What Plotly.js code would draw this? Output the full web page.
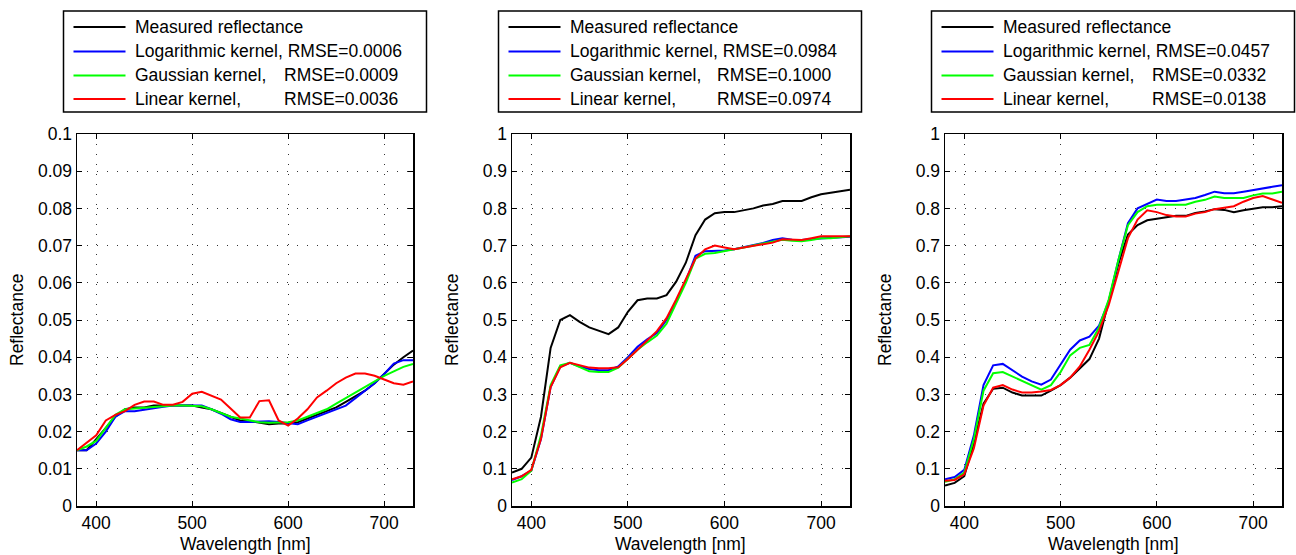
<!DOCTYPE html>
<html>
<head>
<meta charset="utf-8">
<script src="https://cdn.plot.ly/plotly-3.0.1.min.js"></script>
<style>html,body{margin:0;padding:0;background:#fff;}#chart{width:1296px;height:555px;}</style>
</head>
<body>
<div id="chart"></div>
<script>
// ---------- data ----------
const wavelength = [380,390,400,410,420,430,440,450,460,470,480,490,500,510,520,530,540,550,560,570,580,590,600,610,620,630,640,650,660,670,680,690,700,710,720,730];

const seriesNames = ['Measured reflectance', 'Logarithmic kernel,', 'Gaussian kernel,', 'Linear kernel,'];
const seriesColors = ['#000000', '#0000ff', '#00ff00', '#ff0000'];

// Panel 1
const measured1 = [0.015,0.015,0.018,0.021,0.024,0.026,0.0265,0.0265,0.027,0.027,0.027,0.027,0.027,0.0265,0.026,0.025,0.024,0.023,0.0228,0.0224,0.022,0.0222,0.0222,0.0225,0.0235,0.0245,0.0255,0.0265,0.028,0.0295,0.031,0.033,0.0355,0.038,0.040,0.0418];
const log1      = [0.015,0.015,0.0168,0.020,0.024,0.0255,0.0255,0.026,0.0263,0.0267,0.027,0.027,0.027,0.027,0.026,0.0248,0.0233,0.0226,0.0226,0.0228,0.0228,0.0226,0.0223,0.022,0.023,0.024,0.025,0.026,0.027,0.029,0.031,0.033,0.0355,0.0383,0.0392,0.0392];
const gauss1    = [0.015,0.016,0.0175,0.021,0.0245,0.026,0.0262,0.0265,0.0266,0.0268,0.027,0.027,0.027,0.0268,0.026,0.025,0.024,0.0235,0.023,0.0225,0.0224,0.0225,0.0225,0.023,0.024,0.025,0.026,0.0275,0.029,0.0305,0.032,0.0335,0.035,0.0362,0.0374,0.0382];
const linear1   = [0.015,0.017,0.019,0.023,0.0245,0.0255,0.0272,0.0281,0.0281,0.0272,0.0272,0.028,0.0302,0.0307,0.0297,0.0286,0.0262,0.0238,0.0238,0.0282,0.0284,0.023,0.0216,0.0235,0.026,0.0292,0.031,0.033,0.0345,0.0356,0.0356,0.035,0.034,0.033,0.0326,0.0335];
const rmse1 = ['', 'RMSE=0.0006', 'RMSE=0.0009', 'RMSE=0.0036'];

// Panel 2
const measured2 = [0.09,0.10,0.13,0.24,0.425,0.50,0.513,0.495,0.48,0.47,0.462,0.48,0.522,0.553,0.558,0.558,0.567,0.603,0.654,0.728,0.77,0.787,0.79,0.79,0.795,0.80,0.808,0.812,0.82,0.82,0.82,0.83,0.838,0.842,0.846,0.85];
const log2      = [0.07,0.08,0.095,0.18,0.32,0.375,0.385,0.375,0.368,0.365,0.365,0.375,0.40,0.428,0.448,0.465,0.50,0.55,0.605,0.673,0.685,0.685,0.687,0.69,0.695,0.70,0.707,0.715,0.72,0.716,0.715,0.718,0.72,0.722,0.724,0.724];
const gauss2    = [0.063,0.072,0.095,0.19,0.325,0.378,0.385,0.373,0.362,0.36,0.36,0.372,0.395,0.42,0.44,0.458,0.49,0.545,0.60,0.665,0.678,0.68,0.684,0.69,0.695,0.70,0.705,0.71,0.716,0.713,0.712,0.715,0.72,0.72,0.722,0.725];
const linear2   = [0.072,0.08,0.097,0.18,0.32,0.373,0.385,0.378,0.372,0.37,0.37,0.373,0.395,0.42,0.445,0.47,0.505,0.555,0.61,0.665,0.69,0.70,0.695,0.69,0.695,0.70,0.705,0.708,0.717,0.715,0.715,0.72,0.725,0.725,0.725,0.725];
const rmse2 = ['', 'RMSE=0.0984', 'RMSE=0.1000', 'RMSE=0.0974'];

// Panel 3
const measured3 = [0.055,0.062,0.08,0.17,0.275,0.315,0.318,0.305,0.297,0.297,0.297,0.31,0.325,0.345,0.37,0.395,0.45,0.55,0.65,0.73,0.755,0.768,0.772,0.776,0.78,0.78,0.788,0.792,0.798,0.796,0.79,0.795,0.80,0.803,0.803,0.806];
const log3      = [0.072,0.078,0.097,0.19,0.325,0.378,0.382,0.365,0.348,0.335,0.326,0.34,0.38,0.42,0.445,0.455,0.485,0.55,0.66,0.76,0.80,0.812,0.824,0.82,0.82,0.824,0.828,0.836,0.845,0.841,0.841,0.845,0.85,0.854,0.858,0.862];
const gauss3    = [0.065,0.072,0.09,0.18,0.31,0.357,0.36,0.348,0.336,0.324,0.313,0.325,0.36,0.405,0.425,0.433,0.48,0.555,0.66,0.755,0.79,0.806,0.81,0.81,0.81,0.81,0.818,0.823,0.832,0.828,0.828,0.828,0.835,0.84,0.84,0.845];
const linear3   = [0.068,0.07,0.085,0.155,0.27,0.318,0.325,0.313,0.305,0.305,0.308,0.312,0.325,0.345,0.375,0.42,0.47,0.54,0.63,0.72,0.77,0.795,0.79,0.782,0.778,0.778,0.786,0.79,0.798,0.802,0.806,0.818,0.828,0.833,0.825,0.815];
const rmse3 = ['', 'RMSE=0.0457', 'RMSE=0.0332', 'RMSE=0.0138'];

// ticks
const xTickVals = [400, 500, 600, 700];
const xTickText = ['400', '500', '600', '700'];
const yTickVals1 = [0,0.01,0.02,0.03,0.04,0.05,0.06,0.07,0.08,0.09,0.1];
const yTickText1 = ['0','0.01','0.02','0.03','0.04','0.05','0.06','0.07','0.08','0.09','0.1'];
const yTickVals23 = [0,0.1,0.2,0.3,0.4,0.5,0.6,0.7,0.8,0.9,1];
const yTickText23 = ['0','0.1','0.2','0.3','0.4','0.5','0.6','0.7','0.8','0.9','1'];

const xTitle = 'Wavelength [nm]';
const yTitle = 'Reflectance';

// ---------- layout ----------
const W = 1296, H = 555;
const FONT = 'Liberation Sans, Arial, Helvetica, sans-serif';
const FS = 17.5;
const panels = [
  {series: [measured1, log1, gauss1, linear1], rmse: rmse1, yv: yTickVals1, yt: yTickText1, yr: [0, 0.1], left: 77, right: 413},
  {series: [measured2, log2, gauss2, linear2], rmse: rmse2, yv: yTickVals23, yt: yTickText23, yr: [0, 1], left: 512, right: 850},
  {series: [measured3, log3, gauss3, linear3], rmse: rmse3, yv: yTickVals23, yt: yTickText23, yr: [0, 1], left: 945, right: 1282}
];
const plotTop = 134, plotBottom = 506;
const px = v => v / W;
const py = v => 1 - v / H;

const traces = [];
const layout = {
  width: W, height: H,
  margin: {l: 0, r: 0, t: 0, b: 0},
  paper_bgcolor: '#fff', plot_bgcolor: '#fff',
  showlegend: false,
  font: {family: FONT, size: FS, color: '#000'},
  shapes: [], annotations: []
};

panels.forEach((p, i) => {
  const n = i === 0 ? '' : String(i + 1);
  p.series.forEach((s, k) => {
    traces.push({
      x: wavelength, y: s, type: 'scatter', mode: 'lines',
      name: seriesNames[k],
      line: {color: seriesColors[k], width: 2},
      xaxis: 'x' + n, yaxis: 'y' + n, hoverinfo: 'skip'
    });
  });
  const common = {
    showline: true, linecolor: '#000', linewidth: 1.5, mirror: 'ticks',
    ticks: 'inside', ticklen: 5, tickwidth: 1, tickcolor: '#000',
    showgrid: true, gridcolor: '#333', gridwidth: 1, griddash: '1px,9px',
    zeroline: false, fixedrange: true,
    tickfont: {family: FONT, size: FS, color: '#000'}
  };
  layout['xaxis' + n] = Object.assign({}, common, {
    domain: [px(p.left), px(p.right)], range: [380, 730],
    tickmode: 'array', tickvals: xTickVals, ticktext: xTickText,
    anchor: 'y' + n
  });
  layout['yaxis' + n] = Object.assign({}, common, {
    domain: [py(plotBottom), py(plotTop)], range: p.yr,
    tickmode: 'array', tickvals: p.yv, ticktext: p.yt,
    anchor: 'x' + n
  });
  // axis titles
  layout.annotations.push({
    xref: 'paper', yref: 'paper', x: px((p.left + p.right) / 2), y: py(544),
    text: xTitle, showarrow: false, xanchor: 'center', yanchor: 'middle',
    font: {family: FONT, size: FS, color: '#000'}
  });
  layout.annotations.push({
    xref: 'paper', yref: 'paper', x: px(p.left - 60), y: py((plotTop + plotBottom) / 2),
    text: yTitle, showarrow: false, textangle: -90, xanchor: 'center', yanchor: 'middle',
    font: {family: FONT, size: FS, color: '#000'}
  });
  // legend box
  const L = p.left - 13.5, R = L + 363, T = 11, B = 112;
  layout.shapes.push({type: 'rect', xref: 'paper', yref: 'paper',
    x0: px(L), x1: px(R), y0: py(B), y1: py(T),
    line: {color: '#000', width: 1.5}, fillcolor: '#fff'});
  const rows = [27, 51.5, 75.5, 99];
  seriesNames.forEach((nm, k) => {
    layout.shapes.push({type: 'line', xref: 'paper', yref: 'paper',
      x0: px(L + 10), x1: px(L + 62), y0: py(rows[k]), y1: py(rows[k]),
      line: {color: seriesColors[k], width: 2}});
    if (k === 1) {
      layout.annotations.push({xref: 'paper', yref: 'paper', x: px(L + 69), y: py(rows[k]),
        text: nm + ' ' + p.rmse[k], showarrow: false, xanchor: 'left', yanchor: 'middle',
        font: {family: FONT, size: FS, color: '#000'}});
    } else {
      layout.annotations.push({xref: 'paper', yref: 'paper', x: px(L + 69), y: py(rows[k]),
        text: nm, showarrow: false, xanchor: 'left', yanchor: 'middle',
        font: {family: FONT, size: FS, color: '#000'}});
      if (p.rmse[k]) {
        layout.annotations.push({xref: 'paper', yref: 'paper', x: px(L + 336), y: py(rows[k]),
          text: p.rmse[k], showarrow: false, xanchor: 'right', yanchor: 'middle',
          font: {family: FONT, size: FS, color: '#000'}});
      }
    }
  });
});

Plotly.newPlot('chart', traces, layout, {staticPlot: true, displayModeBar: false});
</script>
</body>
</html>
